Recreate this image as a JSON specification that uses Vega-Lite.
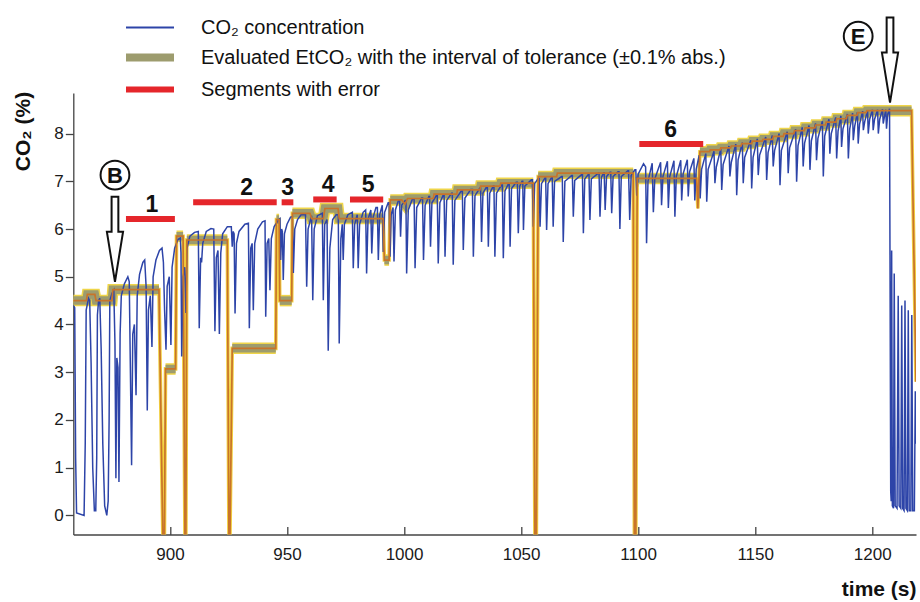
{
"$schema": "https://vega.github.io/schema/vega-lite/v6.json",
"width": 842.7, "height": 441.5,
"autosize": "none",
"padding": {"left": 73.3, "top": 93, "right": 4, "bottom": 67.5},
"background": "white",
"config": {"view": {"stroke": null}, "font": "Liberation Sans"},
"datasets": {
"co2": [
{"t":858.7,"v":4.4},{"t":859.3,"v":4.35},{"t":859.7,"v":1.2},{"t":860.1,"v":0.05},{"t":863.3,"v":0.0},{"t":863.8,"v":1.5},{"t":864.2,"v":4.3},{"t":865.2,"v":4.55},{"t":865.7,"v":4.5},{"t":866.3,"v":3.2},{"t":867.0,"v":1.0},{"t":867.7,"v":0.1},{"t":868.3,"v":0.1},{"t":868.7,"v":1.2},{"t":869.0,"v":4.2},{"t":869.5,"v":4.5},{"t":870.0,"v":4.55},{"t":870.6,"v":3.5},{"t":871.3,"v":1.5},{"t":872.1,"v":0.2},{"t":873.0,"v":0.0},{"t":873.6,"v":0.3},{"t":874.0,"v":2.0},{"t":874.3,"v":4.5},{"t":875.2,"v":4.65},{"t":876.0,"v":4.72},
{"t":876.5,"v":3.6},{"t":876.9,"v":0.78},{"t":877.3,"v":3.3},{"t":877.8,"v":3.1},{"t":878.2,"v":0.7},{"t":878.7,"v":3.8},{"t":879.2,"v":4.6},{"t":880.5,"v":4.85},{"t":882.0,"v":5.0},{"t":882.6,"v":4.9},{"t":883.1,"v":3.0},{"t":883.6,"v":1.05},{"t":884.1,"v":3.8},{"t":884.8,"v":4.0},{"t":885.5,"v":2.52},{"t":886.0,"v":4.6},{"t":887.0,"v":5.05},{"t":888.4,"v":5.3},{"t":889.2,"v":5.35},{"t":889.8,"v":4.8},{"t":890.3,"v":2.2},{"t":890.8,"v":4.3},{"t":891.6,"v":4.6},{"t":892.3,"v":3.53},{"t":892.8,"v":5.0},{"t":894.0,"v":5.35},{"t":895.5,"v":5.55},{"t":896.6,"v":5.6},{"t":897.2,"v":5.3},{"t":897.7,"v":4.3},{"t":898.3,"v":3.47},{"t":898.8,"v":4.8},{"t":899.7,"v":5.0},{"t":900.4,"v":3.57},{"t":900.9,"v":5.2},{"t":902.0,"v":5.6},{"t":903.4,"v":5.78},{"t":904.4,"v":5.81},{"t":904.7,"v":5.5},{"t":905.0,"v":3.33},{"t":905.6,"v":5.0},{"t":906.3,"v":5.2},{"t":906.8,"v":4.24},{"t":907.3,"v":5.6},{"t":908.5,"v":5.85},{"t":910.5,"v":5.93},{"t":912.1,"v":5.95},
{"t":912.5,"v":3.92},{"t":913.1,"v":5.4},{"t":913.5,"v":5.3},{"t":914.0,"v":5.7},{"t":915.5,"v":5.95},{"t":917.5,"v":6.01},{"t":918.7,"v":6.0},{"t":919.2,"v":3.86},{"t":919.8,"v":5.4},{"t":920.5,"v":5.55},{"t":921.1,"v":3.8},{"t":921.7,"v":5.5},{"t":922.5,"v":5.9},{"t":924.5,"v":6.05},{"t":926.2,"v":6.05},{"t":926.6,"v":5.63},{"t":927.0,"v":5.95},{"t":927.4,"v":5.9},{"t":927.8,"v":4.23},{"t":928.4,"v":5.7},{"t":929.5,"v":5.95},{"t":932.0,"v":6.1},{"t":933.5,"v":6.12},{"t":933.9,"v":3.92},{"t":934.5,"v":5.6},{"t":935.1,"v":5.7},{"t":935.6,"v":4.3},{"t":936.2,"v":5.7},{"t":937.5,"v":6.0},{"t":939.5,"v":6.15},{"t":940.6,"v":6.17},{"t":940.9,"v":4.16},{"t":941.5,"v":5.7},{"t":942.2,"v":5.8},{"t":942.7,"v":4.72},{"t":943.3,"v":5.8},{"t":944.5,"v":6.05},{"t":946.5,"v":6.2},{"t":947.0,"v":6.22},{"t":947.3,"v":5.35},{"t":947.7,"v":6.0},{"t":948.0,"v":5.95},{"t":948.4,"v":4.93},{"t":948.9,"v":5.9},{"t":950.0,"v":6.1},{"t":951.5,"v":6.25},{"t":952.3,"v":6.26},{"t":952.7,"v":5.08},{"t":953.3,"v":6.0},{"t":954.5,"v":6.2},{"t":956.0,"v":6.3},{"t":957.9,"v":6.3},
{"t":958.4,"v":4.79},{"t":959.0,"v":6.0},{"t":960.5,"v":6.28},{"t":961.0,"v":4.51},{"t":961.6,"v":6.0},{"t":963.0,"v":6.28},{"t":965.1,"v":6.33},{"t":965.5,"v":4.51},{"t":966.1,"v":6.1},{"t":967.1,"v":6.2},{"t":967.6,"v":3.45},{"t":968.3,"v":5.6},{"t":969.5,"v":6.2},{"t":971.0,"v":6.3},{"t":971.9,"v":6.3},{"t":972.3,"v":3.6},{"t":973.0,"v":5.8},{"t":973.6,"v":6.1},{"t":974.0,"v":5.35},{"t":974.5,"v":6.1},{"t":976.0,"v":6.3},{"t":977.9,"v":6.35},{"t":978.3,"v":5.18},{"t":978.9,"v":6.1},{"t":980.0,"v":6.3},{"t":980.4,"v":5.18},{"t":981.0,"v":6.1},{"t":982.5,"v":6.35},{"t":983.6,"v":6.4},{"t":984.0,"v":5.07},{"t":984.6,"v":6.2},{"t":985.8,"v":6.4},{"t":986.2,"v":5.49},{"t":986.8,"v":6.25},{"t":988.0,"v":6.45},{"t":988.6,"v":6.45},{"t":989.0,"v":5.35},{"t":989.6,"v":6.3},{"t":990.7,"v":6.5},{"t":991.1,"v":5.52},{"t":991.7,"v":6.35},{"t":993.2,"v":6.55},{"t":993.6,"v":6.55},{"t":994.0,"v":5.42},{"t":994.5,"v":6.3},{"t":995.3,"v":6.45},{"t":995.7,"v":5.32},{"t":996.3,"v":6.4},{"t":997.6,"v":6.6},{"t":998.1,"v":6.6},{"t":998.5,"v":5.84},{"t":999.0,"v":6.5},{"t":1000.5,"v":6.6},{"t":1000.8,"v":6.6},
{"t":1001.1,"v":5.07},{"t":1001.8,"v":6.4},{"t":1003.5,"v":6.62},{"t":1004.3,"v":6.63},
{"t":1004.7,"v":5.18},{"t":1005.4,"v":6.45},{"t":1007.5,"v":6.65},{"t":1007.9,"v":6.65},
{"t":1008.3,"v":5.35},{"t":1009.0,"v":6.5},{"t":1010.6,"v":6.68},{"t":1010.9,"v":6.68},
{"t":1011.3,"v":5.63},{"t":1011.9,"v":6.55},{"t":1013.8,"v":6.7},{"t":1014.2,"v":6.7},
{"t":1014.6,"v":5.28},{"t":1015.3,"v":6.55},{"t":1016.8,"v":6.72},{"t":1017.1,"v":6.72},
{"t":1017.5,"v":5.42},{"t":1018.2,"v":6.6},{"t":1020.3,"v":6.75},{"t":1020.6,"v":6.75},
{"t":1021.0,"v":5.25},{"t":1021.7,"v":6.6},{"t":1024.5,"v":6.8},{"t":1024.9,"v":6.8},
{"t":1025.3,"v":5.56},{"t":1026.0,"v":6.65},{"t":1028.5,"v":6.83},{"t":1029.2,"v":6.83},
{"t":1029.6,"v":5.42},{"t":1030.3,"v":6.7},{"t":1032.4,"v":6.86},{"t":1032.7,"v":6.86},
{"t":1033.1,"v":5.73},{"t":1033.7,"v":6.75},{"t":1035.2,"v":6.88},{"t":1035.6,"v":6.88},
{"t":1036.0,"v":5.63},{"t":1036.6,"v":6.75},{"t":1038.1,"v":6.9},{"t":1038.4,"v":6.9},
{"t":1038.8,"v":5.42},{"t":1039.5,"v":6.75},{"t":1041.6,"v":6.92},{"t":1042.0,"v":6.92},
{"t":1042.4,"v":5.39},{"t":1043.1,"v":6.8},{"t":1044.6,"v":6.95},{"t":1044.9,"v":6.95},
{"t":1045.3,"v":5.63},{"t":1045.9,"v":6.85},{"t":1047.9,"v":6.98},{"t":1048.4,"v":6.98},
{"t":1048.8,"v":5.91},{"t":1049.4,"v":6.9},{"t":1050.4,"v":7.0},{"t":1050.7,"v":7.0},
{"t":1051.0,"v":5.98},{"t":1051.6,"v":6.9},{"t":1054.4,"v":7.03},{"t":1054.8,"v":7.03},
{"t":1055.2,"v":6.05},{"t":1055.8,"v":6.95},{"t":1057.3,"v":7.06},{"t":1057.7,"v":7.06},
{"t":1058.1,"v":6.05},{"t":1058.7,"v":6.95},{"t":1060.2,"v":7.07},{"t":1060.5,"v":7.07},
{"t":1060.9,"v":5.98},{"t":1061.5,"v":6.95},{"t":1063.0,"v":7.08},{"t":1063.3,"v":7.08},
{"t":1063.7,"v":6.05},{"t":1064.3,"v":7.0},{"t":1067.3,"v":7.1},{"t":1067.6,"v":7.1},
{"t":1068.0,"v":5.73},{"t":1068.7,"v":7.0},{"t":1071.6,"v":7.12},{"t":1071.9,"v":7.12},
{"t":1072.3,"v":6.26},{"t":1072.9,"v":7.02},{"t":1075.9,"v":7.14},{"t":1076.2,"v":7.14},
{"t":1076.6,"v":5.91},{"t":1077.2,"v":7.05},{"t":1078.8,"v":7.15},{"t":1079.0,"v":7.15},
{"t":1079.4,"v":6.19},{"t":1080.0,"v":7.05},{"t":1083.0,"v":7.17},{"t":1083.3,"v":7.17},
{"t":1083.7,"v":6.26},{"t":1084.3,"v":7.08},{"t":1085.3,"v":7.18},{"t":1085.5,"v":7.18},
{"t":1085.9,"v":6.4},{"t":1086.5,"v":7.1},{"t":1088.0,"v":7.19},{"t":1088.3,"v":7.19},
{"t":1088.7,"v":6.33},{"t":1089.3,"v":7.1},{"t":1091.4,"v":7.2},{"t":1091.8,"v":7.2},
{"t":1092.2,"v":6.0},{"t":1092.8,"v":7.1},{"t":1095.6,"v":7.22},{"t":1095.9,"v":7.22},
{"t":1096.4,"v":6.19},{"t":1097.0,"v":7.12},{"t":1098.6,"v":7.24},{"t":1099.0,"v":7.24},
{"t":1099.4,"v":6.7},{"t":1100.0,"v":7.15},{"t":1102.3,"v":7.37},{"t":1103.2,"v":7.3},{"t":1103.6,"v":5.7},{"t":1104.2,"v":7.0},{"t":1106.0,"v":7.38},{"t":1106.5,"v":6.35},{"t":1107.1,"v":7.05},{"t":1109.6,"v":7.4},{"t":1110.0,"v":6.5},{"t":1110.6,"v":7.1},{"t":1112.5,"v":7.42},{"t":1112.9,"v":6.44},{"t":1113.5,"v":7.1},{"t":1115.3,"v":7.43},{"t":1115.7,"v":6.26},{"t":1116.3,"v":7.1},{"t":1118.2,"v":7.44},{"t":1118.6,"v":6.6},{"t":1119.2,"v":7.15},{"t":1121.0,"v":7.45},{"t":1121.4,"v":6.68},{"t":1122.0,"v":7.2},{"t":1123.8,"v":7.48},{"t":1124.2,"v":6.6},{"t":1124.8,"v":7.25},{"t":1126.1,"v":7.55},
{"t":1126.5,"v":6.64},{"t":1127.1,"v":7.25},{"t":1128.9,"v":7.58},{"t":1129.3,"v":6.57},{"t":1129.9,"v":7.25},{"t":1132.4,"v":7.63},{"t":1132.8,"v":6.96},{"t":1133.4,"v":7.3},{"t":1135.3,"v":7.68},{"t":1135.7,"v":6.82},{"t":1136.3,"v":7.35},{"t":1138.8,"v":7.74},{"t":1139.2,"v":7.1},{"t":1139.8,"v":7.4},{"t":1141.7,"v":7.78},{"t":1142.1,"v":6.71},{"t":1142.7,"v":7.45},{"t":1144.5,"v":7.81},{"t":1144.9,"v":6.96},{"t":1145.5,"v":7.5},{"t":1148.1,"v":7.86},{"t":1148.5,"v":6.85},{"t":1149.1,"v":7.5},{"t":1150.9,"v":7.89},{"t":1151.3,"v":7.13},{"t":1151.9,"v":7.55},{"t":1154.5,"v":7.93},{"t":1154.9,"v":7.03},{"t":1155.5,"v":7.6},{"t":1157.3,"v":7.96},{"t":1157.7,"v":7.31},{"t":1158.3,"v":7.65},{"t":1160.2,"v":8.0},{"t":1160.6,"v":6.92},{"t":1161.2,"v":7.65},{"t":1163.7,"v":8.04},{"t":1164.1,"v":7.17},{"t":1164.7,"v":7.7},{"t":1167.3,"v":8.09},{"t":1167.7,"v":6.99},{"t":1168.3,"v":7.75},{"t":1170.1,"v":8.13},{"t":1170.5,"v":7.31},{"t":1171.1,"v":7.8},{"t":1173.0,"v":8.17},{"t":1173.4,"v":7.24},{"t":1174.0,"v":7.85},{"t":1175.8,"v":8.21},{"t":1176.2,"v":7.44},{"t":1176.8,"v":7.9},{"t":1178.7,"v":8.26},{"t":1179.1,"v":7.1},{"t":1179.7,"v":7.95},{"t":1181.5,"v":8.3},{"t":1181.9,"v":7.58},{"t":1182.5,"v":8.0},{"t":1184.4,"v":8.34},{"t":1184.8,"v":7.48},{"t":1185.4,"v":8.05},{"t":1186.6,"v":8.37},{"t":1186.9,"v":7.72},{"t":1187.5,"v":8.1},{"t":1189.4,"v":8.41},{"t":1189.8,"v":7.48},{"t":1190.4,"v":8.1},{"t":1191.6,"v":8.43},{"t":1191.9,"v":7.86},{"t":1192.5,"v":8.15},{"t":1193.7,"v":8.45},{"t":1194.0,"v":7.79},{"t":1194.6,"v":8.2},{"t":1195.9,"v":8.47},{"t":1196.2,"v":8.07},{"t":1196.8,"v":8.25},{"t":1198.0,"v":8.49},{"t":1198.3,"v":8.0},{"t":1198.9,"v":8.3},{"t":1200.1,"v":8.5},{"t":1200.4,"v":8.07},{"t":1201.0,"v":8.3},{"t":1202.3,"v":8.5},{"t":1202.6,"v":8.0},{"t":1203.2,"v":8.3},{"t":1204.4,"v":8.51},{"t":1204.7,"v":8.21},{"t":1205.2,"v":8.35},{"t":1205.8,"v":8.5},{"t":1206.1,"v":8.1},{"t":1206.6,"v":8.4},{"t":1207.4,"v":8.52},
{"t":1207.9,"v":0.5},{"t":1208.1,"v":0.3},{"t":1208.3,"v":5.55},{"t":1208.6,"v":0.2},{"t":1209.1,"v":0.15},{"t":1209.4,"v":5.07},{"t":1209.8,"v":0.2},{"t":1210.6,"v":0.15},{"t":1211.1,"v":4.6},{"t":1211.5,"v":0.2},{"t":1212.2,"v":0.15},{"t":1212.6,"v":4.4},{"t":1213.0,"v":0.15},{"t":1213.6,"v":0.1},{"t":1214.0,"v":4.5},{"t":1214.4,"v":0.15},{"t":1215.0,"v":0.1},{"t":1215.4,"v":4.3},{"t":1215.8,"v":0.1},{"t":1216.5,"v":0.1},{"t":1216.9,"v":4.2},{"t":1217.3,"v":0.1},{"t":1218.0,"v":0.1},{"t":1218.4,"v":2.6},{"t":1218.7,"v":1.5}
],
"et": [
{"t":858.7,"v":4.5,"s":1},{"t":864.3,"v":4.5,"s":1},{"t":864.7,"v":4.63,"s":1},{"t":867.9,"v":4.63,"s":1},{"t":868.4,"v":4.5,"s":1},{"t":875.2,"v":4.5,"s":1},{"t":875.6,"v":4.73,"s":1},{"t":895.3,"v":4.73,"s":1},
{"t":897.0,"v":-0.6,"s":0},{"t":897.6,"v":-0.6,"s":0},
{"t":898.1,"v":3.07,"s":2},{"t":902.4,"v":3.07,"s":2},
{"t":902.8,"v":5.85,"s":3},{"t":905.6,"v":5.85,"s":3},
{"t":906.4,"v":-0.6,"s":0},{"t":906.8,"v":-0.6,"s":0},
{"t":907.2,"v":5.77,"s":4},{"t":924.5,"v":5.77,"s":4},
{"t":925.2,"v":-0.6,"s":0},{"t":925.6,"v":-0.6,"s":0},
{"t":926.6,"v":3.5,"s":5},{"t":945.2,"v":3.5,"s":5},
{"t":945.5,"v":6.2,"s":6},{"t":946.6,"v":6.2,"s":6},
{"t":946.9,"v":4.5,"s":7},{"t":952.0,"v":4.5,"s":7},
{"t":952.3,"v":6.33,"s":8},{"t":959.8,"v":6.33,"s":8},{"t":960.5,"v":6.22,"s":8},{"t":965.5,"v":6.22,"s":8},{"t":966.2,"v":6.43,"s":8},{"t":971.8,"v":6.43,"s":8},{"t":972.3,"v":6.22,"s":8},{"t":991.1,"v":6.22,"s":8},
{"t":991.6,"v":5.35,"s":9},{"t":993.6,"v":5.35,"s":9},
{"t":994.1,"v":6.61,"s":10},{"t":999.0,"v":6.61,"s":10},{"t":1000.4,"v":6.52,"s":10},{"t":1001.5,"v":6.64,"s":10},{"t":1012.5,"v":6.64,"s":10},{"t":1012.8,"v":6.73,"s":10},{"t":1022.5,"v":6.73,"s":10},{"t":1022.8,"v":6.82,"s":10},{"t":1032.4,"v":6.82,"s":10},{"t":1032.7,"v":6.9,"s":10},{"t":1041.0,"v":6.9,"s":10},{"t":1041.3,"v":6.96,"s":10},{"t":1055.2,"v":6.96,"s":10},
{"t":1055.9,"v":-0.6,"s":0},{"t":1056.5,"v":-0.6,"s":0},
{"t":1057.3,"v":7.1,"s":11},{"t":1065.2,"v":7.1,"s":11},{"t":1065.5,"v":7.17,"s":11},{"t":1097.9,"v":7.17,"s":11},
{"t":1098.4,"v":-0.6,"s":0},{"t":1099.0,"v":-0.6,"s":0},
{"t":1099.6,"v":7.06,"s":12},{"t":1125.0,"v":7.06,"s":12},
{"t":1125.5,"v":6.43,"s":0},
{"t":1126.4,"v":7.62,"s":13},{"t":1130.5,"v":7.62,"s":13},{"t":1130.8,"v":7.66,"s":13},{"t":1135.0,"v":7.66,"s":13},{"t":1135.3,"v":7.7,"s":13},{"t":1139.5,"v":7.7,"s":13},{"t":1139.8,"v":7.74,"s":13},{"t":1144.0,"v":7.74,"s":13},{"t":1144.3,"v":7.79,"s":13},{"t":1148.5,"v":7.79,"s":13},{"t":1148.8,"v":7.84,"s":13},{"t":1153.0,"v":7.84,"s":13},{"t":1153.3,"v":7.88,"s":13},{"t":1157.5,"v":7.88,"s":13},{"t":1157.8,"v":7.94,"s":13},{"t":1162.0,"v":7.94,"s":13},{"t":1162.3,"v":8.0,"s":13},{"t":1166.5,"v":8.0,"s":13},{"t":1166.8,"v":8.06,"s":13},{"t":1171.0,"v":8.06,"s":13},{"t":1171.3,"v":8.12,"s":13},{"t":1175.5,"v":8.12,"s":13},{"t":1175.8,"v":8.18,"s":13},{"t":1180.0,"v":8.18,"s":13},{"t":1180.3,"v":8.24,"s":13},{"t":1184.5,"v":8.24,"s":13},{"t":1184.8,"v":8.31,"s":13},{"t":1189.0,"v":8.31,"s":13},{"t":1189.3,"v":8.38,"s":13},{"t":1193.5,"v":8.38,"s":13},{"t":1193.8,"v":8.44,"s":13},{"t":1197.4,"v":8.44,"s":13},{"t":1197.7,"v":8.48,"s":13},{"t":1216.8,"v":8.48,"s":13},
{"t":1218.7,"v":2.8,"s":0}
],
"err": [
{"t":881.2,"t2":902.1,"v":6.21},{"t":909.9,"t2":945.6,"v":6.56},{"t":947.7,"t2":952.7,"v":6.56},{"t":961.2,"t2":971.2,"v":6.62},{"t":976.9,"t2":991.1,"v":6.62},{"t":1100.5,"t2":1127.8,"v":7.78}
],
"lab": [
{"t":892.3,"v":6.21,"k":"1"},{"t":932.8,"v":6.56,"k":"2"},{"t":950.3,"v":6.56,"k":"3"},{"t":967.6,"v":6.62,"k":"4"},{"t":984.7,"v":6.62,"k":"5"},{"t":1113.9,"v":7.78,"k":"6"}
],
"circ": [
{"t":876.5,"v":7.13,"k":"B"},{"t":1194.0,"v":10.04,"k":"E"}
],
"arr": [
{"t":876.5,"v":5.786},{"t":1207.6,"v":9.54}
]
},
"encoding": {
"x": {"field":"t","type":"quantitative","scale":{"domain":[858.7,1218.7],"nice":false,"zero":false},
 "axis":{"values":[900,950,1000,1050,1100,1150,1200],"format":"d","title":"time (s)","grid":false,"domainColor":"#444","domainWidth":1.3,"tickColor":"#444","tickWidth":1.3,"tickSize":-8,"labelPadding":20,"labelFontSize":17,"labelColor":"#1a1a1a","labelFont":"Liberation Sans","labelFlush":false,"titleFont":"Liberation Sans","titleFontSize":21,"titleFontWeight":"bold","titleColor":"#111","titleX":842.7,"titleY":61,"titleAlign":"right","titleBaseline":"alphabetic","titleAnchor":"end"}},
"y": {"field":"v","type":"quantitative","scale":{"domain":[-0.4,8.85],"nice":false,"zero":false},
 "axis":{"values":[0,1,2,3,4,5,6,7,8],"title":"CO₂ (%)","grid":false,"domainColor":"#444","domainWidth":1.3,"tickColor":"#444","tickWidth":1.3,"tickSize":8,"labelPadding":2,"labelFontSize":17,"labelColor":"#1a1a1a","labelFont":"Liberation Sans","titleFont":"Liberation Sans","titleFontSize":21,"titleFontWeight":"bold","titleColor":"#111","titleX":-50,"titleY":38,"titleAngle":270,"titleAlign":"center","titleBaseline":"middle"}}
},
"layer": [
{"data":{"name":"et"},"mark":{"type":"line","color":"#f2d040","strokeWidth":3.6,"clip":true}},
{"data":{"name":"et"},"transform":[{"filter":"datum.s > 0"}],"mark":{"type":"line","color":"#efd54a","strokeWidth":11.5,"clip":true,"strokeCap":"butt"},"encoding":{"detail":{"field":"s","type":"nominal"}}},
{"data":{"name":"et"},"transform":[{"filter":"datum.s > 0"}],"mark":{"type":"line","strokeWidth":8.5,"clip":true,"strokeCap":"butt"},
 "encoding":{"detail":{"field":"s","type":"nominal"},
  "color":{"datum":"Evaluated EtCO₂ with the interval of tolerance (±0.1% abs.)","type":"nominal",
   "scale":{"domain":["CO₂ concentration","Evaluated EtCO₂ with the interval of tolerance (±0.1% abs.)","Segments with error"],"range":["#2d44a8","#9d9c6e","#e5262b"]},
   "legend":{"orient":"none","legendX":66.7,"legendY":-75.5,"title":null,"symbolType":"M-2.4,0L2.4,0","symbolSize":400,"symbolStrokeWidth":6,"labelFontSize":20,"labelFont":"Liberation Sans","labelColor":"#111","labelOffset":41,"rowPadding":4,"padding":0,"labelLimit":800,
    "encode":{"symbols":{"update":{"strokeWidth":{"signal":"datum.index === 0 ? 2 : datum.index === 1 ? 8 : 6"}}}}}}}},
{"data":{"name":"co2"},"mark":{"type":"line","strokeWidth":1.5,"clip":true},"encoding":{"color":{"datum":"CO₂ concentration","type":"nominal"}}},
{"data":{"name":"et"},"mark":{"type":"line","color":"#c8742a","strokeWidth":1.7,"clip":true}},
{"data":{"name":"err"},"mark":{"type":"rule","strokeWidth":6},"encoding":{"x2":{"field":"t2"},"color":{"datum":"Segments with error","type":"nominal"}}},
{"data":{"name":"lab"},"mark":{"type":"text","fontSize":23,"fontWeight":"bold","font":"Liberation Sans","baseline":"alphabetic","align":"center","dy":-7,"color":"#111"},"encoding":{"text":{"field":"k"}}},
{"data":{"name":"circ"},"mark":{"type":"point","shape":"circle","size":830,"filled":true,"fill":"white","stroke":"#111","strokeWidth":2,"opacity":1}},
{"data":{"name":"circ"},"mark":{"type":"text","fontSize":22,"fontWeight":"bold","font":"Liberation Sans","baseline":"middle","align":"center","dy":1,"color":"#111"},"encoding":{"text":{"field":"k"}}},
{"data":{"name":"arr"},"mark":{"type":"point","shape":"M-0.075,-0.944L0.075,-0.944L0.075,-0.167L0.18,-0.167L0,0.944L-0.18,-0.167L-0.075,-0.167Z","size":8100,"filled":true,"fill":"white","stroke":"#111","strokeWidth":2,"opacity":1}}
]
}
